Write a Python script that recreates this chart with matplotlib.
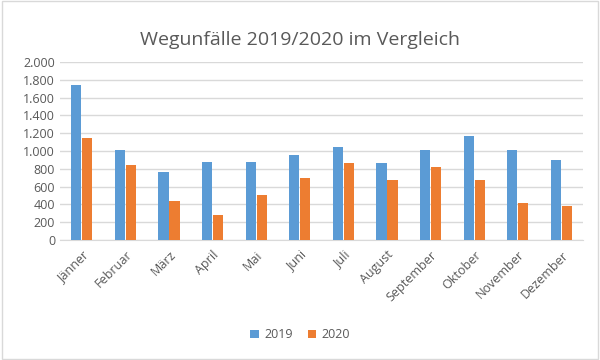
import matplotlib

matplotlib.use("Agg")
import matplotlib.pyplot as plt
import numpy as np
from matplotlib.ticker import FuncFormatter

months = ["Jänner", "Februar", "März", "April", "Mai", "Juni", "Juli",
          "August", "September", "Oktober", "November", "Dezember"]
unfaelle_2019 = [1740, 1010, 770, 880, 880, 955, 1050, 860, 1010, 1165, 1010, 900]
unfaelle_2020 = [1145, 845, 435, 285, 510, 695, 865, 680, 825, 680, 415, 385]
y_ticks = [0, 200, 400, 600, 800, 1000, 1200, 1400, 1600, 1800, 2000]

text_col = "#595959"
plt.rcParams["font.family"] = ["Open Sans", "DejaVu Sans"]

fig = plt.figure(figsize=(6, 3.6), dpi=100)
ax = fig.add_axes([0.1, 0.333, 0.872, 0.495])

x = np.arange(len(months))
w = 0.235
ax.bar(x - w / 2 - 0.01, unfaelle_2019, w, color="#5B9BD5", label="2019", zorder=3)
ax.bar(x + w / 2 + 0.01, unfaelle_2020, w, color="#ED7D31", label="2020", zorder=3)

ax.set_xlim(-0.5, len(months) - 0.5)
ax.set_ylim(0, 2000)
ax.set_yticks(y_ticks)
ax.yaxis.set_major_formatter(FuncFormatter(lambda v, p: f"{int(v):,}".replace(",", ".")))
ax.set_xticks(x, months, rotation=45, ha="right", rotation_mode="anchor")
ax.tick_params(axis="both", length=0, colors=text_col, labelsize=9)
ax.tick_params(axis="x", pad=6)
ax.grid(True, axis="y", color="#D9D9D9", linewidth=1, zorder=0)
for s in ["top", "right", "left"]:
    ax.spines[s].set_visible(False)
ax.spines["bottom"].set_color("#D9D9D9")

fig.text(0.5, 0.89, "Wegunfälle 2019/2020 im Vergleich", ha="center", va="center",
         fontsize=14, color=text_col)
fig.legend(loc="center", bbox_to_anchor=(0.5, 0.07), ncol=2, frameon=False,
           fontsize=9, handlelength=0.7, handleheight=0.7, columnspacing=1.2,
           handletextpad=0.4, labelcolor=text_col)

border = plt.Rectangle((0.003, 0.004), 0.994, 0.992, transform=fig.transFigure,
                       fill=False, edgecolor="#D9D9D9", linewidth=1)
fig.patches.append(border)

fig.savefig("out.png", dpi=100)
